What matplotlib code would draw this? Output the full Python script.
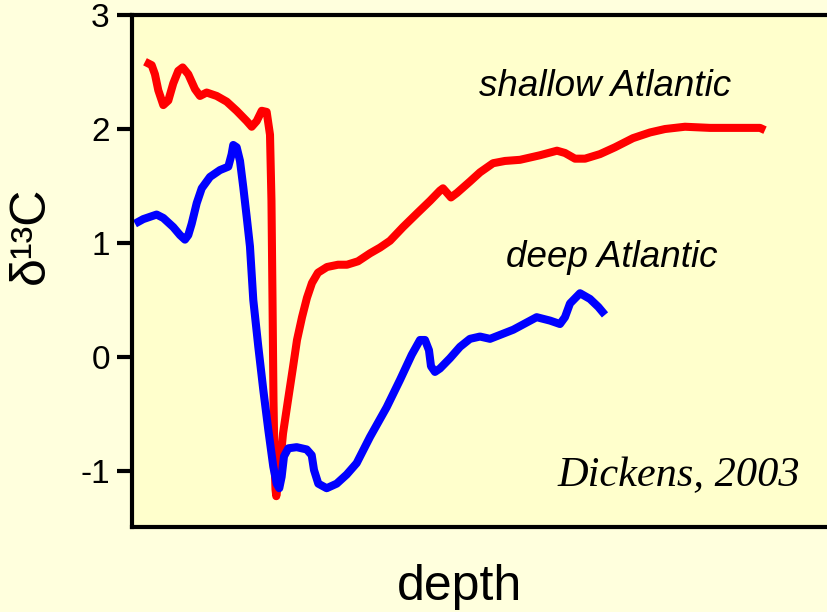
import matplotlib
matplotlib.use('Agg')
import matplotlib.pyplot as plt

# depth in arbitrary units (0-100 across the panel), d13C in per mil
shallow_x = [1.87, 2.83, 3.30, 3.78, 4.50, 5.22, 5.93, 6.65, 7.28, 8.09, 9.05, 9.77, 10.73, 12.17,
             13.61, 15.04, 16.48, 17.20, 17.92, 18.64, 19.35, 19.83, 20.04, 20.19, 20.33, 20.47,
             20.62, 20.73, 20.98, 21.26, 21.70, 22.41, 23.13, 23.71, 24.43, 25.14, 25.86, 26.72,
             28.02, 29.60, 30.89, 32.47, 34.20, 35.63, 37.07, 38.94, 40.95, 42.82, 44.25, 44.68,
             45.26, 45.83, 46.70, 48.56, 50.0, 51.87, 53.59, 55.75, 58.62, 61.06, 62.21, 63.65,
             65.09, 67.24, 69.40, 71.98, 74.43, 76.58, 79.45, 83.05, 87.36, 90.23, 90.95]
shallow_y = [2.59, 2.56, 2.48, 2.34, 2.21, 2.25, 2.40, 2.51, 2.54, 2.48, 2.35, 2.29, 2.32, 2.29,
             2.24, 2.16, 2.07, 2.02, 2.07, 2.16, 2.15, 1.95, 1.37, 0.50, -0.38, -0.90,
             -1.16, -1.22, -1.12, -0.95, -0.67, -0.38, -0.09, 0.15, 0.35, 0.52, 0.65, 0.74,
             0.79, 0.81, 0.81, 0.84, 0.91, 0.96, 1.02, 1.14, 1.26, 1.37, 1.46, 1.48,
             1.44, 1.40, 1.44, 1.54, 1.62, 1.70, 1.72, 1.73, 1.77, 1.81, 1.79, 1.74,
             1.74, 1.78, 1.84, 1.92, 1.97, 2.00, 2.02, 2.01, 2.01, 2.01, 1.99]

deep_x = [0.43, 1.62, 3.54, 4.50, 5.93, 6.90, 7.61, 8.09, 8.58, 9.30, 10.02, 11.21, 12.64, 13.84,
          14.32, 14.55, 15.04, 15.52, 15.99, 16.48, 16.95, 17.43, 18.15, 18.87, 19.59, 20.30,
          20.79, 21.16, 21.50, 21.84, 22.46, 23.66, 25.10, 25.82, 26.15, 26.77, 27.97, 29.41,
          30.85, 32.28, 34.20, 36.59, 38.51, 40.19, 41.38, 42.10, 42.67, 42.96, 43.53, 44.25,
          45.69, 47.13, 48.56, 50.0, 51.44, 54.78, 58.14, 60.06, 61.49, 62.21, 62.93, 64.37,
          65.80, 67.0, 67.96]
deep_y = [1.17, 1.21, 1.25, 1.22, 1.14, 1.07, 1.03, 1.07, 1.17, 1.35, 1.48, 1.58, 1.64, 1.67,
          1.78, 1.86, 1.84, 1.72, 1.49, 1.23, 0.97, 0.50, 0.09, -0.29, -0.64, -0.96,
          -1.11, -1.15, -1.05, -0.87, -0.80, -0.79, -0.81, -0.86, -0.99, -1.11, -1.15, -1.11,
          -1.03, -0.93, -0.70, -0.44, -0.20, 0.02, 0.15, 0.15, 0.06, -0.08, -0.13, -0.10,
          -0.01, 0.09, 0.16, 0.18, 0.16, 0.24, 0.35, 0.32, 0.29, 0.35, 0.47, 0.56,
          0.51, 0.44, 0.37]

yticks = [-1, 0, 1, 2, 3]

plt.rcParams['font.family'] = ['Liberation Sans', 'DejaVu Sans']

fig = plt.figure(figsize=(8.28, 6.12), dpi=100, facecolor='#FFFFDD')
ax = fig.add_axes([0.1594, 0.1389, 0.8406, 0.8366], facecolor='#FFFFCC')

ax.plot(shallow_x, shallow_y, color='#FF0000', lw=5.8, solid_joinstyle='round', solid_capstyle='butt')
ax.plot(deep_x, deep_y, color='#0000FF', lw=5.8, solid_joinstyle='round', solid_capstyle='butt')

ax.set_xlim(0, 100)
ax.set_ylim(-1.49, 3.0)
ax.set_yticks(yticks)
ax.set_yticklabels([str(v) for v in yticks], fontsize=24)
ax.set_xticks([])
ax.tick_params(axis='y', length=11, width=3, pad=5, labelsize=24, direction='out')

for side in ['left', 'top', 'bottom']:
    ax.spines[side].set_linewidth(3)
ax.spines['right'].set_visible(False)

ax.set_ylabel('δ¹³C', fontsize=36)
ax.yaxis.set_label_coords(-0.112, 0.57)
ax.set_xlabel('depth', fontsize=36)
ax.xaxis.set_label_coords(0.47, -0.072)

ax.text(0.68, 0.86, 'shallow Atlantic', transform=ax.transAxes, fontsize=26.5,
        style='italic', ha='center', va='center')
ax.text(0.689, 0.527, 'deep Atlantic', transform=ax.transAxes, fontsize=26.5,
        style='italic', ha='center', va='center')
ax.text(0.96, 0.099, 'Dickens, 2003', transform=ax.transAxes, fontsize=30.5,
        style='italic', family=['Liberation Serif', 'DejaVu Serif'], ha='right', va='center')

fig.savefig('out.png', dpi=100, facecolor=fig.get_facecolor())
